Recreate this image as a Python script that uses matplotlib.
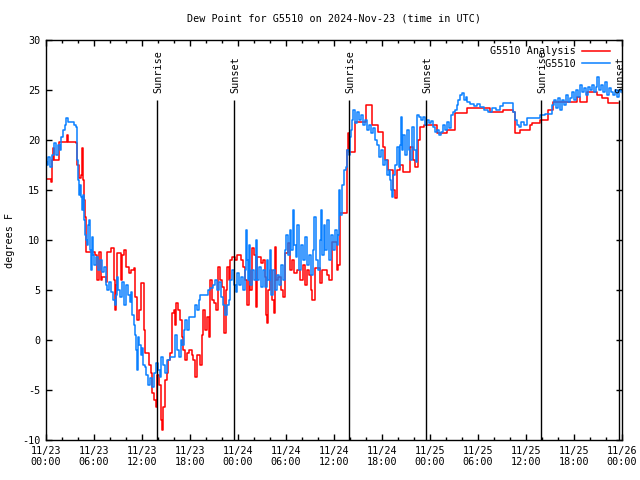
#!/usr/bin/env python3
# Dew point, analysis vs station obs, 3 days (hours since 11/23 00:00 UTC)
import matplotlib
matplotlib.use("Agg")
import matplotlib.pyplot as plt
from matplotlib.ticker import MultipleLocator

# station obs (G5510)
obs_t = [0.0, 0.125, 0.25, 0.5, 0.75, 1.0, 1.25, 1.5, 1.75, 1.875, 2.125, 2.375, 2.5, 2.75, 3.125, 3.5,
         3.75, 3.875, 4.0, 4.125, 4.25, 4.375, 4.5, 4.625, 4.75, 4.875, 5.0, 5.125, 5.25, 5.375, 5.5,
         5.625, 5.75, 5.875, 6.0, 6.25, 6.5, 6.75, 7.0, 7.25, 7.5, 7.625, 7.875, 8.125, 8.375, 8.625,
         8.75, 8.875, 9.0, 9.25, 9.5, 9.75, 10.0, 10.25, 10.5, 10.625, 10.75, 11.0, 11.125, 11.25,
         11.375, 11.5, 11.625, 11.875, 12.0, 12.125, 12.375, 12.5, 12.75, 13.0, 13.25, 13.5, 13.75,
         14.0, 14.25, 14.375, 14.625, 14.875, 15.125, 15.5, 16.125, 16.375, 16.625, 16.875, 17.0,
         17.25, 17.375, 17.625, 17.875, 18.0, 18.625, 18.875, 19.125, 19.25, 19.75, 20.25, 20.5,
         20.875, 21.125, 21.375, 21.625, 21.875, 22.125, 22.375, 22.625, 22.875, 23.0, 23.25, 23.5,
         23.75, 23.875, 24.125, 24.375, 24.625, 24.875, 25.0, 25.125, 25.25, 25.375, 25.5, 25.75,
         26.0, 26.25, 26.375, 26.625, 26.875, 27.125, 27.375, 27.625, 27.75, 28.0, 28.125, 28.375,
         28.625, 28.875, 29.125, 29.375, 29.625, 29.875, 30.0, 30.25, 30.5, 30.625, 30.875, 31.0,
         31.25, 31.375, 31.625, 31.875, 32.125, 32.375, 32.625, 32.875, 33.125, 33.375, 33.5, 33.75,
         34.0, 34.25, 34.375, 34.5, 34.75, 34.875, 35.125, 35.375, 35.625, 35.875, 36.125, 36.375,
         36.5, 36.625, 36.75, 37.0, 37.25, 37.5, 37.625, 37.875, 38.0, 38.125, 38.25, 38.375, 38.625,
         38.875, 39.125, 39.375, 39.625, 39.875, 40.125, 40.375, 40.625, 40.875, 41.125, 41.375,
         41.625, 41.875, 42.125, 42.375, 42.625, 42.875, 43.0, 43.125, 43.25, 43.375, 43.625, 43.875,
         44.125, 44.25, 44.375, 44.5, 44.625, 44.875, 45.125, 45.375, 45.5, 45.75, 46.0, 46.25,
         46.375, 46.625, 46.875, 47.125, 47.375, 47.625, 47.875, 48.125, 48.375, 48.625, 48.875,
         49.125, 49.375, 49.625, 49.875, 50.125, 50.375, 50.625, 50.875, 51.125, 51.375, 51.5, 51.75,
         52.0, 52.25, 52.5, 52.625, 53.0, 53.5, 53.875, 54.25, 54.75, 55.25, 55.75, 56.25, 56.75,
         57.125, 58.0, 58.375, 58.625, 58.875, 59.125, 59.375, 59.75, 60.125, 61.125, 61.75, 62.375,
         63.0, 63.25, 63.5, 63.75, 64.0, 64.25, 64.5, 64.75, 65.0, 65.25, 65.5, 65.75, 66.0, 66.25,
         66.5, 66.75, 67.0, 67.25, 67.5, 67.75, 68.0, 68.25, 68.5, 68.75, 68.875, 69.125, 69.375,
         69.625, 69.875, 70.125, 70.375, 70.625, 70.875, 71.125, 71.375, 71.625, 71.875]
obs_v = [17.8, 17.5, 18.3, 17.3, 18.5, 19.7, 18.5, 19.5, 19.0, 20.3, 21.0, 21.5, 22.2, 21.8, 21.8, 21.5,
         21.3, 18.0, 16.0, 14.5, 15.5, 14.3, 13.0, 14.5, 12.0, 10.5, 10.0, 9.5, 11.5, 12.0, 9.0,
         7.0, 10.3, 8.5, 7.5, 8.3, 7.0, 8.0, 6.8, 7.3, 5.5, 5.0, 5.8, 4.8, 4.0, 3.5,
         4.5, 6.3, 5.0, 4.3, 5.8, 3.5, 5.5, 4.5, 3.8, 4.8, 2.5, 1.5, 0.5, -1.0,
         -3.0, 0.3, -0.5, -1.5, -0.8, -2.5, -2.7, -3.5, -4.5, -3.8, -4.7, -3.3, -2.3,
         -3.0, -3.7, -1.7, -2.5, -3.3, -2.0, -1.7, 0.5, -1.0, -1.7, 0.0, -0.5,
         1.0, 2.0, 1.0, 2.3, 2.3, 3.5, 3.0, 4.0, 4.5, 4.5, 5.0, 5.2,
         5.5, 6.0, 5.0, 5.8, 4.3, 3.5, 2.5, 3.5, 4.0, 6.0, 7.0, 5.5,
         4.8, 6.7, 5.5, 6.3, 5.0, 7.0, 11.0, 8.0, 6.0, 9.5, 5.5, 7.0,
         6.0, 10.0, 6.0, 7.3, 5.3, 7.0, 5.3, 8.0, 6.0, 9.0, 4.5, 7.0,
         5.0, 6.5, 5.5, 7.5, 6.0, 9.0, 10.5, 8.5, 11.0, 9.0, 13.0, 9.5,
         8.3, 11.5, 7.0, 9.5, 8.0, 10.3, 7.5, 8.5, 6.5, 9.0, 12.3, 8.0,
         7.0, 10.0, 13.0, 8.5, 11.5, 9.0, 12.0, 8.0, 10.5, 9.0, 11.0, 9.5,
         10.5, 15.0, 12.5, 15.5, 17.0, 17.3, 19.0, 18.5, 20.3, 21.0, 22.0, 23.0, 21.7,
         22.8, 22.0, 22.5, 21.5, 22.0, 21.0, 21.5, 20.7, 21.2, 20.0, 19.5,
         18.3, 19.0, 17.5, 18.0, 16.5, 17.0, 16.0, 15.0, 14.3, 16.5, 17.5, 19.3,
         17.3, 19.5, 22.3, 19.0, 20.5, 18.5, 21.0, 19.0, 18.0, 21.3, 19.0, 17.8,
         22.5, 22.3, 22.0, 22.3, 21.5, 22.0, 21.7, 21.9, 21.3, 20.8, 21.0,
         20.5, 20.8, 21.5, 21.0, 21.8, 21.2, 22.5, 22.8, 23.0, 23.5, 24.0, 24.5,
         24.7, 24.0, 24.3, 23.8, 23.6, 23.4, 23.6, 23.3, 23.0, 22.8, 23.2, 23.0, 23.4,
         23.7, 23.7, 22.8, 22.0, 21.5, 21.3, 21.8, 21.5, 22.2, 22.2, 22.5, 22.6,
         22.6, 23.5, 24.0, 23.2, 24.2, 23.0, 24.0, 23.5, 24.5, 23.8, 24.2, 24.8, 24.0, 25.0,
         24.3, 25.5, 24.8, 25.2, 24.5, 25.3, 25.0, 25.5, 24.8, 25.3, 26.3, 25.0, 25.5,
         24.8, 25.8, 24.5, 25.2, 24.8, 24.5, 25.0, 24.3, 25.0, 24.8]

# analysis
ana_t = [0.0, 0.625, 0.75, 0.875, 1.0, 1.625, 2.625, 2.75, 3.75, 3.875, 4.125, 4.375, 4.5, 4.625,
         4.75, 4.875, 5.0, 6.125, 6.375, 6.625, 6.875, 7.0, 7.5, 7.625, 8.125, 8.5, 8.625, 8.75,
         8.875, 9.375, 9.5, 9.75, 10.0, 10.375, 10.625, 11.0, 11.125, 11.375, 11.625, 11.875, 12.25,
         12.375, 12.625, 12.875, 13.125, 13.25, 13.5, 13.75, 13.875, 14.125, 14.375, 14.5, 14.625,
         14.875, 15.125, 15.25, 15.5, 15.75, 16.0, 16.125, 16.25, 16.5, 16.75, 17.0, 17.125, 17.375,
         17.625, 17.875, 18.25, 18.375, 18.625, 18.875, 19.25, 19.5, 19.625, 19.875, 20.125, 20.375,
         20.5, 20.75, 21.0, 21.25, 21.5, 21.75, 22.0, 22.25, 22.5, 22.625, 22.875, 23.0, 23.25,
         23.625, 23.875, 24.375, 24.625, 24.875, 25.125, 25.375, 25.5, 25.75, 26.0, 26.25, 26.375,
         26.875, 27.125, 27.375, 27.5, 27.625, 27.75, 28.0, 28.25, 28.5, 28.625, 28.75, 29.0, 29.375,
         29.625, 29.875, 30.25, 30.5, 30.75, 31.0, 31.375, 31.75, 32.125, 32.375, 32.625, 32.875,
         33.125, 33.25, 33.625, 34.25, 34.5, 35.125, 35.375, 35.75, 36.375, 36.5, 36.75, 37.625,
         37.75, 37.875, 38.625, 40.0, 40.75, 41.5, 42.125, 42.375, 42.75, 43.375, 43.625, 43.875,
         44.25, 44.625, 45.5, 45.875, 46.125, 46.5, 46.75, 47.25, 48.875, 50.125, 51.125, 52.625,
         55.5, 57.125, 58.375, 58.625, 59.25, 60.5, 60.75, 61.75, 62.75, 63.375, 66.375, 66.75,
         67.625, 68.875, 69.5, 70.25, 71.5]
ana_v = [16.1, 15.8, 18.0, 19.2, 18.0, 19.8, 20.5, 19.8, 19.7, 17.5, 16.2, 16.5, 19.2, 16.0,
         14.0, 12.3, 8.8, 8.5, 6.0, 8.8, 6.0, 6.3, 5.8, 8.8, 9.2, 6.0, 3.0, 5.5,
         8.7, 6.0, 8.5, 9.0, 7.3, 6.7, 7.0, 7.2, 4.3, 2.0, 3.0, 5.7, 1.0,
         -1.3, -1.3, -2.5, -3.3, -5.3, -6.0, -6.7, -3.5, -4.5, -8.0, -9.0, -6.7,
         -4.0, -3.3, -2.0, -1.3, 2.7, 3.0, 1.5, 3.7, 3.0, 2.0, 0.3, -1.0, -2.0,
         -1.3, -1.0, -1.5, -2.0, -3.7, -1.5, -2.5, 0.5, 3.0, 1.0, 2.3, 0.3,
         6.0, 4.0, 3.7, 3.0, 7.3, 6.0, 5.3, 0.7, 5.0, 7.3, 6.0, 8.0, 8.3,
         8.0, 8.5, 8.0, 7.3, 6.0, 3.5, 7.0, 5.0, 9.2, 8.5, 3.3, 8.3,
         7.7, 8.0, 6.3, 2.5, 1.7, 5.0, 7.0, 4.0, 2.7, 9.3, 6.0, 6.3, 5.0,
         4.3, 8.7, 9.7, 7.0, 8.0, 6.7, 7.0, 6.0, 7.5, 5.5, 7.0, 6.5,
         5.0, 4.0, 7.2, 5.7, 7.0, 6.5, 6.0, 9.8, 7.0, 7.5, 12.7, 19.0,
         20.7, 18.8, 21.8, 23.5, 21.5, 20.8, 19.3, 18.0, 17.0, 15.0, 14.2, 17.0,
         17.5, 16.8, 19.3, 18.0, 17.3, 20.0, 21.3, 21.5, 20.7, 21.0, 22.7, 23.2,
         22.8, 23.0, 22.8, 20.7, 21.0, 21.5, 21.7, 22.0, 23.0, 23.8, 24.3, 23.8,
         24.8, 24.5, 24.2, 23.7, 23.7]

sun_t = [13.875, 23.5, 37.875, 47.5, 61.875, 71.6]
sun_lab = ["Sunrise", "Sunset", "Sunrise", "Sunset", "Sunrise", "Sunset"]

xticks = list(range(0, 73, 6))
xlabs = ["11/23\n00:00", "11/23\n06:00", "11/23\n12:00", "11/23\n18:00",
         "11/24\n00:00", "11/24\n06:00", "11/24\n12:00", "11/24\n18:00",
         "11/25\n00:00", "11/25\n06:00", "11/25\n12:00", "11/25\n18:00",
         "11/26\n00:00"]

plt.rcParams["font.family"] = "DejaVu Sans Mono"
plt.rcParams["font.size"] = 7.3
plt.rcParams["axes.unicode_minus"] = False

fig = plt.figure(figsize=(6.4, 4.8), dpi=100)
ax = fig.add_axes([46 / 640, 40 / 480, 576 / 640, 400 / 480])

ax.step(ana_t, ana_v, where="post", color="#ff0000", lw=1.1, label="G5510 Analysis")
ax.step(obs_t, obs_v, where="post", color="#0a80ff", lw=1.1, label="         G5510")

ax.vlines(sun_t, -10, 24, color="black", lw=1)
for t, s in zip(sun_t, sun_lab):
    ax.text(t + 0.15, 24.7, s, rotation=90, ha="center", va="bottom")

ax.set_xlim(0, 72)
ax.set_ylim(-10, 30)
ax.set_xticks(xticks)
ax.set_xticklabels(xlabs)
ax.xaxis.set_minor_locator(MultipleLocator(2))
ax.yaxis.set_major_locator(MultipleLocator(5))
ax.tick_params(which="both", direction="in", top=True, right=True, width=1)
ax.tick_params(which="major", length=4.5, pad=4)
ax.tick_params(which="minor", length=2.5)
for sp in ax.spines.values():
    sp.set_linewidth(1)

ax.set_ylabel("degrees F", va="center")
ax.yaxis.set_label_coords(-0.0625, 0.5)
ax.set_title("Dew Point for G5510 on 2024-Nov-23 (time in UTC)", fontsize=7.3, pad=13)
ax.legend(loc="upper right", frameon=False, markerfirst=False, handlelength=2.8,
          handletextpad=0.6, labelspacing=0.25, borderaxespad=0.2,
          bbox_to_anchor=(0.99, 1.0))

plt.savefig("out.png")
